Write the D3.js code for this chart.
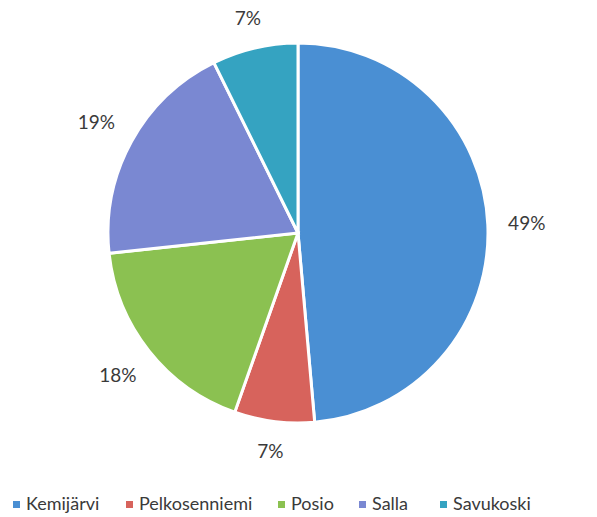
<!DOCTYPE html>
<html lang="fi">
<head>
    <meta charset="UTF-8">
    <title>Pie chart</title>
    <script src="https://d3js.org/d3.v7.min.js"></script>
    <style>
        body { margin: 0; background: #fff; }
        svg { display: block; }
        .label { font-family: Lato, "Open Sans", sans-serif; font-size: 19px; fill: #3a3a3a; }
        .legend-text { font-family: Lato, "Open Sans", sans-serif; font-size: 18px; fill: #3a3a3a; }
    </style>
</head>
<body>
<svg id="chart" width="597" height="517"></svg>
<script>
    // values (percent of total)
    const municipalities = ["Kemijärvi", "Pelkosenniemi", "Posio", "Salla", "Savukoski"];
    const shares = [48.6, 6.8, 17.9, 19.4, 7.3];
    const colors = ["#4a8fd3", "#d7635c", "#8bc151", "#7a88d2", "#35a3c1"];
    const legendX = [13, 126, 278, 359, 440];

    const width = 597, height = 517;
    const cx = 298, cy = 233, radius = 190;
    const labelGap = 20;

    const svg = d3.select("#chart");
    const color = d3.scaleOrdinal().domain(municipalities).range(colors);

    const data = municipalities.map((m, i) => ({name: m, value: shares[i]}));

    const pie = d3.pie().sort(null).value(d => d.value);
    const arc = d3.arc().innerRadius(0).outerRadius(radius);

    const g = svg.append("g").attr("transform", `translate(${cx},${cy})`);

    const arcs = pie(data);

    g.selectAll("path.slice")
        .data(arcs)
        .join("path")
        .attr("class", "slice")
        .attr("d", arc)
        .attr("fill", d => color(d.data.name))
        .attr("stroke", "#fff")
        .attr("stroke-width", 3);

    // labels sit just outside the edge, box pushed out along the bisector
    g.selectAll("text.label")
        .data(arcs)
        .join("text")
        .attr("class", "label")
        .attr("text-anchor", "middle")
        .attr("dy", "0.35em")
        .text(d => Math.round(d.data.value) + "%")
        .each(function(d) {
            const box = this.getBBox();
            const a = (d.startAngle + d.endAngle) / 2;
            const s = Math.sin(a), c = -Math.cos(a);
            const half = Math.abs(s) * box.width / 2 + Math.abs(c) * 8;
            const r = radius + labelGap + half;
            d3.select(this).attr("transform", `translate(${r * s},${r * c})`);
        });

    // legend along the bottom
    const legend = svg.append("g").attr("transform", "translate(0,504)");
    const item = legend.selectAll("g")
        .data(municipalities)
        .join("g")
        .attr("transform", (d, i) => `translate(${legendX[i]},0)`);

    item.append("rect")
        .attr("x", 0).attr("y", -3)
        .attr("width", 7).attr("height", 7)
        .attr("fill", d => color(d));

    item.append("text")
        .attr("class", "legend-text")
        .attr("x", 13)
        .attr("dy", "0.35em")
        .text(d => d);
</script>
</body>
</html>
